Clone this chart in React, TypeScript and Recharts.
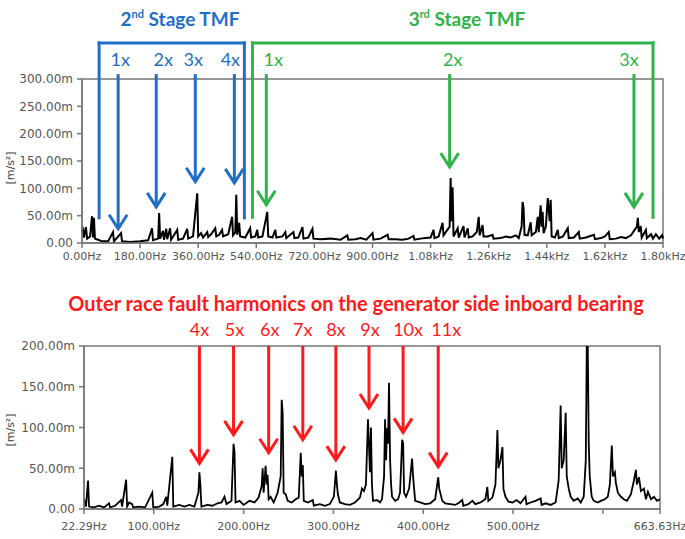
import React from "react";
import { LineChart, Line, XAxis, YAxis, ReferenceLine, ReferenceArea } from "recharts";

// top spectrum, 0 - 1.8 kHz: [frequency Hz, amplitude m(m/s²)]
const topSpectrum: [number, number][] = [
  [0, 20], [3, 24], [6, 10], [12, 29], [16, 8], [25, 12], [31, 49], [34, 10], [37, 46], [40, 8],
  [50, 6], [62, 3], [81, 3], [96, 20], [99, 3], [121, 18], [124, 3], [149, 2], [180, 3], [205, 5],
  [217, 27], [220, 5], [236, 8], [239, 55], [242, 8], [251, 22], [254, 6], [261, 26], [264, 7],
  [273, 27], [276, 6], [295, 24], [298, 6], [313, 8], [326, 26], [329, 8], [344, 12], [357, 91],
  [360, 12], [369, 18], [375, 10], [388, 20], [391, 11], [400, 16], [413, 27], [416, 12], [425, 15],
  [434, 24], [437, 12], [453, 16], [465, 48], [468, 14], [475, 20], [478, 88], [481, 15], [487, 37],
  [490, 12], [506, 10], [521, 27], [524, 10], [537, 12], [543, 24], [546, 10], [559, 12], [574, 57],
  [577, 12], [590, 10], [599, 24], [602, 10], [621, 12], [630, 20], [633, 9], [655, 20], [658, 9],
  [670, 10], [683, 29], [686, 8], [701, 10], [714, 26], [717, 8], [739, 7], [770, 8], [801, 6],
  [822, 14], [825, 6], [847, 7], [863, 9], [881, 6], [900, 18], [903, 6], [925, 8], [947, 15],
  [950, 7], [971, 7], [993, 6], [1012, 8], [1027, 13], [1030, 6], [1049, 8], [1064, 9], [1080, 10],
  [1089, 24], [1092, 9], [1105, 12], [1117, 37], [1120, 14], [1139, 30], [1142, 119], [1145, 40],
  [1148, 102], [1151, 12], [1164, 27], [1167, 10], [1182, 31], [1185, 10], [1195, 27], [1198, 10],
  [1210, 12], [1223, 20], [1229, 48], [1232, 14], [1241, 33], [1244, 12], [1257, 12], [1272, 15],
  [1275, 8], [1297, 9], [1313, 12], [1328, 10], [1344, 14], [1353, 9], [1362, 30], [1365, 75],
  [1368, 64], [1371, 15], [1381, 14], [1390, 38], [1393, 14], [1406, 20], [1412, 48], [1415, 20],
  [1421, 69], [1424, 30], [1427, 57], [1430, 18], [1437, 30], [1443, 82], [1449, 40], [1452, 79],
  [1455, 12], [1465, 10], [1474, 24], [1477, 9], [1490, 12], [1505, 27], [1508, 9], [1524, 10],
  [1539, 20], [1542, 8], [1561, 10], [1586, 15], [1589, 7], [1608, 9], [1620, 12], [1632, 20],
  [1635, 7], [1654, 8], [1670, 11], [1685, 9], [1701, 14], [1719, 30], [1722, 46], [1725, 20],
  [1731, 31], [1734, 10], [1747, 24], [1750, 9], [1763, 16], [1769, 8], [1778, 16], [1788, 8],
  [1797, 14], [1800, 8],
];

// bottom spectrum, 22.29 - 663.63 Hz
const bottomSpectrum: [number, number][] = [
  [22.3, 13], [24.5, 3], [26.8, 35], [27.9, 3], [33.5, 2], [39, 4], [44.6, 2], [50.2, 7], [51.3, 2],
  [56.9, 4], [63.6, 11], [64.7, 3], [69.2, 36], [70.3, 3], [72.6, 8], [75.9, 6], [77, 2], [83.7, 3],
  [90.4, 2], [98.3, 20], [99.4, 2], [106.1, 3], [110.6, 6], [113.9, 15], [115, 4], [120.6, 64],
  [121.7, 3], [128.4, 5], [134, 3], [139.6, 5], [145.2, 3], [149.7, 20], [150.8, 45], [151.9, 29],
  [153, 3], [159.7, 5], [165.3, 4], [170.9, 7], [175.4, 8], [178.7, 15], [181, 6], [186.5, 10],
  [188.8, 80], [189.9, 70], [191, 8], [195.5, 10], [200, 5], [206.6, 10], [212.2, 8], [216.7, 14],
  [220.1, 28], [221.2, 50], [222.3, 20], [224.5, 53], [225.6, 30], [226.7, 42], [227.9, 12],
  [230.1, 15], [233.5, 8], [237.9, 20], [241.3, 40], [242.4, 134], [243.5, 118], [244.6, 20],
  [246.9, 18], [249.1, 10], [253.6, 8], [258, 12], [261.4, 14], [263.6, 69], [264.8, 40], [265.9, 54],
  [267, 10], [271.5, 8], [277, 11], [278.2, 4], [284.9, 6], [290.5, 4], [296, 6], [300.5, 15],
  [302.8, 47], [303.9, 30], [305, 18], [307.2, 8], [312.8, 6], [318.4, 5], [324, 8], [329.5, 14],
  [331.8, 25], [334, 22], [336.2, 30], [338.5, 110], [340.7, 45], [341.8, 100], [342.9, 30],
  [344.1, 10], [348.5, 11], [351.9, 8], [354.1, 12], [356.4, 40], [357.5, 110], [358.6, 60],
  [359.7, 99], [360.8, 80], [361.9, 155], [363.1, 60], [364.2, 30], [365.3, 15], [368.7, 10],
  [372, 12], [374.2, 20], [376.5, 85], [377.6, 81], [378.7, 20], [380.9, 15], [384.3, 25],
  [387.6, 62], [388.7, 40], [391, 10], [396.6, 8], [402.2, 6], [407.8, 7], [413.3, 12], [416.7, 39],
  [417.8, 25], [421.2, 10], [424.5, 7], [430.1, 6], [435.7, 5], [440.2, 8], [443.5, 11], [444.6, 4],
  [450.2, 6], [454.7, 10], [458, 6], [463.6, 8], [469.2, 12], [471.4, 27], [472.5, 10], [477, 14],
  [480.4, 30], [482.6, 97], [483.7, 50], [486, 60], [488.2, 76], [489.3, 25], [491.6, 15], [494.9, 9],
  [499.4, 8], [503.8, 11], [508.3, 7], [513.9, 15], [515, 6], [519.5, 8], [525.1, 10], [530.7, 13],
  [531.8, 5], [536.3, 7], [541.8, 5], [547.4, 8], [550.8, 35], [553, 127], [554.2, 50], [556.4, 60],
  [558.6, 118], [559.8, 40], [562, 25], [564.2, 15], [567.6, 10], [572, 13], [575.4, 8], [578.7, 15],
  [581, 60], [582.1, 200], [583.2, 200], [584.3, 80], [585.4, 40], [587.6, 15], [589.9, 10],
  [594.3, 8], [597.7, 10], [602.2, 12], [605.5, 15], [607.8, 30], [610, 78], [611.2, 40], [613.4, 45],
  [614.5, 32], [616.7, 20], [620.1, 15], [623.4, 12], [626.8, 10], [631.2, 18], [634.6, 35],
  [636.8, 48], [637.9, 30], [640.2, 39], [642.4, 22], [645.7, 25], [648, 12], [650.2, 21], [653.6, 12],
  [656.9, 15], [660.3, 10], [663.6, 12],
];

const topXTicks = [0, 180, 360, 540, 720, 900, 1080, 1260, 1440, 1620, 1800];
const topXLabels = ["0.00Hz", "180.00Hz", "360.00Hz", "540.00Hz", "720.00Hz", "900.00Hz", "1.08kHz", "1.26kHz", "1.44kHz", "1.62kHz", "1.80kHz"];
const topYTicks = [0, 50, 100, 150, 200, 250, 300];
const topYLabels = ["0.00", "50.00m", "100.00m", "150.00m", "200.00m", "250.00m", "300.00m"];

const bottomXTicks = [22.29, 100, 200, 300, 400, 500, 600, 663.63];
const bottomXLabels = ["22.29Hz", "100.00Hz", "200.00Hz", "300.00Hz", "400.00Hz", "500.00Hz", "", "663.63Hz"];
const bottomYTicks = [0, 50, 100, 150, 200];
const bottomYLabels = ["0.00", "50.00m", "100.00m", "150.00m", "200.00m"];

// harmonic markers: frequency, arrow tip amplitude
const blueLabels = ["1x", "2x", "3x", "4x"];
const blueFreq = [112, 230, 351, 472];
const blueTip = [26, 66, 112, 110];
const greenLabels = ["1x", "2x", "3x"];
const greenFreq = [571, 1139, 1710];
const greenTip = [70, 139, 66];
const redLabels = ["4x", "5x", "6x", "7x", "8x", "9x", "10x", "11x"];
const redFreq = [150.8, 188.8, 227.9, 265.9, 302.7, 339.6, 377.6, 416.7];
const redTip = [56, 91, 69, 85, 60, 124, 94, 52];

// bracket extents [left Hz, right Hz]
const blueBracket = [53, 503];
const greenBracket = [528, 1769];

const BLUE = "#1f6fc9";
const GREEN = "#2fb34a";
const RED = "#ff1a1a";
const AXIS = "#777";
const xTickStyle = { fontSize: 11, fill: "#555", fontFamily: "DejaVu Sans" };
const yTickStyle = { fontSize: 12, fill: "#555", fontFamily: "DejaVu Sans" };

function arrow(color: string, text: string, dx: number, gap: number) {
  return (p: any) => {
    const { x1, y1, x2, y2 } = p;
    return (
      <g>
        <line x1={x1} y1={y1} x2={x2} y2={y2 - 2} stroke={color} strokeWidth={3} />
        <polyline
          points={`${x2 - 9},${y2 - 14} ${x2},${y2} ${x2 + 9},${y2 - 14}`}
          fill="none"
          stroke={color}
          strokeWidth={3}
        />
        <text x={x1 + dx} y={y1 - gap} textAnchor="middle" fill={color} fontSize={18} fontFamily="Lato">
          {text}
        </text>
      </g>
    );
  };
}

function bracket(key: string, l: number, r: number, top: number, bottom: number, color: string) {
  const common = { stroke: color, strokeWidth: 3, ifOverflow: "visible" as const, strokeLinecap: "square" as const };
  return [
    <ReferenceLine key={key + "l"} segment={[{ x: l, y: bottom }, { x: l, y: top }]} {...common} />,
    <ReferenceLine key={key + "t"} segment={[{ x: l, y: top }, { x: r, y: top }]} {...common} />,
    <ReferenceLine key={key + "r"} segment={[{ x: r, y: top }, { x: r, y: bottom }]} {...common} />,
  ];
}

const topData = topSpectrum.map(([f, a]) => ({ f, a }));
const bottomData = bottomSpectrum.map(([f, a]) => ({ f, a }));

const blueDx = [2, 7, -2, -4];
const greenDx = [7, 3, -5];
const redDx = [0, 1, 1, 0, 0, 1, 5, 8];

const abs = (left: number, top: number): React.CSSProperties => ({
  position: "absolute",
  left,
  top,
  transform: "translateX(-50%)",
  whiteSpace: "nowrap",
  fontFamily: "Lato",
  fontWeight: 700,
  lineHeight: 1,
});

const sup: React.CSSProperties = { fontSize: 11, position: "relative", top: -8 };

const yLabel = (top: number): React.CSSProperties => ({
  position: "absolute",
  left: 10,
  top,
  transform: "translate(-50%, -50%) rotate(-90deg)",
  fontFamily: "DejaVu Sans",
  fontSize: 11,
  color: "#444",
  whiteSpace: "nowrap",
});

export default function App() {
  return (
    <div style={{ position: "absolute", left: 0, top: 0, width: 685, height: 539, background: "#fff", overflow: "hidden" }}>
      <div style={{ ...abs(180, 9), fontSize: 19, color: BLUE }}>
        2<span style={sup}>nd</span> Stage TMF
      </div>
      <div style={{ ...abs(467, 9), fontSize: 19, color: GREEN }}>
        3<span style={sup}>rd</span> Stage TMF
      </div>
      <div style={yLabel(168)}>[m/s²]</div>

      <div style={{ position: "absolute", left: 0, top: 0 }}>
        <LineChart width={685} height={270} data={topData} margin={{ top: 79, right: 22, bottom: 7, left: 22 }}>
          <XAxis
            dataKey="f"
            type="number"
            domain={[0, 1800]}
            ticks={topXTicks}
            interval={0}
            tickFormatter={(v: number) => topXLabels[topXTicks.indexOf(v)] ?? ""}
            height={20}
            tick={xTickStyle}
            stroke={AXIS}
            strokeWidth={1.5}
            tickSize={5}
            tickMargin={4}
          />
          <YAxis
            type="number"
            domain={[0, 300]}
            ticks={topYTicks}
            interval={0}
            tickFormatter={(v: number) => topYLabels[topYTicks.indexOf(v)] ?? ""}
            width={60}
            tick={yTickStyle}
            stroke={AXIS}
            strokeWidth={1.5}
            tickSize={5}
            tickMargin={4}
          />
          <ReferenceArea x1={0} x2={1800} y1={0} y2={300} fill="none" stroke={AXIS} strokeWidth={1.5} ifOverflow="visible" />
          <Line dataKey="a" type="linear" stroke="#000" strokeWidth={2} dot={false} isAnimationActive={false} />
          {bracket("b", blueBracket[0], blueBracket[1], 366, 46, BLUE)}
          {bracket("g", greenBracket[0], greenBracket[1], 366, 47, GREEN)}
          {blueFreq.map((f, i) => (
            <ReferenceLine
              key={"ba" + i}
              segment={[{ x: f, y: 309 }, { x: f, y: blueTip[i] }]}
              ifOverflow="visible"
              shape={arrow(BLUE, blueLabels[i], blueDx[i], 8)}
            />
          ))}
          {greenFreq.map((f, i) => (
            <ReferenceLine
              key={"ga" + i}
              segment={[{ x: f, y: 309 }, { x: f, y: greenTip[i] }]}
              ifOverflow="visible"
              shape={arrow(GREEN, greenLabels[i], greenDx[i], 8)}
            />
          ))}
        </LineChart>
      </div>

      <div style={{ ...abs(356, 293), fontSize: 20, color: RED }}>
        Outer race fault harmonics on the generator side inboard bearing
      </div>
      <div style={yLabel(430)}>[m/s²]</div>

      <div style={{ position: "absolute", left: 0, top: 270 }}>
        <LineChart width={685} height={269} data={bottomData} margin={{ top: 76, right: 25, bottom: 8, left: 24 }}>
          <XAxis
            dataKey="f"
            type="number"
            domain={[22.29, 663.63]}
            ticks={bottomXTicks}
            interval={0}
            tickFormatter={(v: number) => bottomXLabels[bottomXTicks.indexOf(v)] ?? ""}
            height={22}
            tick={xTickStyle}
            stroke={AXIS}
            strokeWidth={1.5}
            tickSize={5}
            tickMargin={8}
            allowDataOverflow
          />
          <YAxis
            type="number"
            domain={[0, 200]}
            ticks={bottomYTicks}
            interval={0}
            tickFormatter={(v: number) => bottomYLabels[bottomYTicks.indexOf(v)] ?? ""}
            width={60}
            tick={yTickStyle}
            stroke={AXIS}
            strokeWidth={1.5}
            tickSize={5}
            tickMargin={4}
            allowDataOverflow
          />
          <ReferenceArea x1={22.29} x2={663.63} y1={0} y2={200} fill="none" stroke={AXIS} strokeWidth={1.5} ifOverflow="visible" />
          <Line dataKey="a" type="linear" stroke="#000" strokeWidth={1.8} dot={false} isAnimationActive={false} />
          {redFreq.map((f, i) => (
            <ReferenceLine
              key={"ra" + i}
              segment={[{ x: f, y: 200 }, { x: f, y: redTip[i] }]}
              ifOverflow="visible"
              shape={arrow(RED, redLabels[i], redDx[i], 10)}
            />
          ))}
        </LineChart>
      </div>
    </div>
  );
}
